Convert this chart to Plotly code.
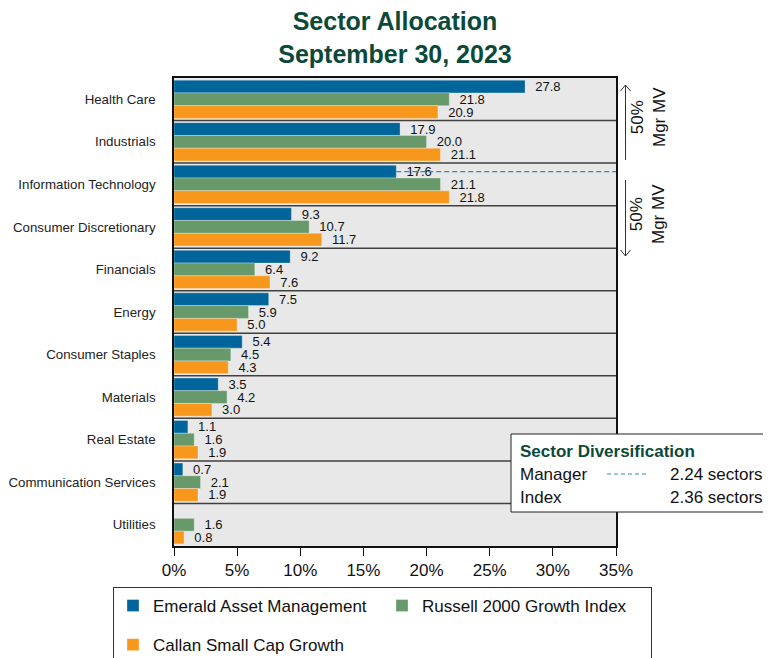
import plotly.graph_objects as go

categories = ["Health Care", "Industrials", "Information Technology", "Consumer Discretionary",
              "Financials", "Energy", "Consumer Staples", "Materials", "Real Estate",
              "Communication Services", "Utilities"]
emerald = [27.8, 17.9, 17.6, 9.3, 9.2, 7.5, 5.4, 3.5, 1.1, 0.7, None]
russell = [21.8, 20.0, 21.1, 10.7, 6.4, 5.9, 4.5, 4.2, 1.6, 2.1, 1.6]
callan = [20.9, 21.1, 21.8, 11.7, 7.6, 5.0, 4.3, 3.0, 1.9, 1.9, 0.8]
series_names = ["Emerald Asset Management", "Russell 2000 Growth Index", "Callan Small Cap Growth"]
colors = ["#00659a", "#67996b", "#f7981d"]
x_ticks = [0, 5, 10, 15, 20, 25, 30, 35]
manager_div = "2.24 sectors"
index_div = "2.36 sectors"
dash_value = emerald[2]

FONT = "Liberation Sans, Arial, sans-serif"
GREEN_T = "#0b4a3a"

OFF = 8  # page body margin
W, H = 771 - OFF, 658 - OFF
# plot area in screen pixels
SL, SR, ST, SB = 174, 616, 78, 546
L, R, T, B = SL - OFF, SR - OFF, ST - OFF, SB - OFF


def px(xs):
    return (xs - OFF - L) / (R - L)


def py(ys):
    return (B - (ys - OFF)) / (B - T)


fig = go.Figure()
for i, (name, vals, col) in enumerate(zip(series_names, [emerald, russell, callan], colors)):
    fig.add_trace(go.Bar(
        y=categories, x=vals, name=name, orientation="h", legendgroup="g%d" % i,
        marker=dict(color=col, line=dict(color="rgba(255,255,255,0.6)", width=0.5)),
        text=[("\u00a0\u00a0%.1f" % v) if v is not None else "" for v in vals],
        textposition="outside", constraintext="none", cliponaxis=False,
        textfont=dict(size=13, color="#111", family=FONT),
    ))

shapes = []
for i in range(len(categories) - 1):
    shapes.append(dict(type="line", xref="paper", x0=0, x1=1, yref="y", y0=i + 0.5, y1=i + 0.5,
                       line=dict(color="#404040", width=1.5)))
shapes.append(dict(type="line", xref="x", x0=dash_value, x1=35, yref="y", y0=1.7, y1=1.7,
                   line=dict(color="#2b8cc8", width=1.2, dash="5px,3px")))
ax = px(625.5)
shapes.append(dict(type="line", xref="paper", yref="paper", x0=ax, x1=ax, y0=py(85), y1=py(160),
                   line=dict(color="#333", width=1)))
shapes.append(dict(type="path", xref="paper", yref="paper",
                   path="M%f,%f L%f,%f L%f,%f" % (px(620.5), py(91), ax, py(85), px(630.5), py(91)),
                   line=dict(color="#333", width=1)))
shapes.append(dict(type="line", xref="paper", yref="paper", x0=ax, x1=ax, y0=py(180), y1=py(256),
                   line=dict(color="#333", width=1)))
shapes.append(dict(type="path", xref="paper", yref="paper",
                   path="M%f,%f L%f,%f L%f,%f" % (px(620.5), py(250), ax, py(256), px(630.5), py(250)),
                   line=dict(color="#333", width=1)))
shapes.append(dict(type="rect", xref="paper", yref="paper", x0=px(511), x1=px(800), y0=py(512), y1=py(434),
                   fillcolor="white", line=dict(color="#222", width=1), layer="above"))
shapes.append(dict(type="line", xref="paper", yref="paper", x0=px(607), x1=px(646), y0=py(474), y1=py(474),
                   line=dict(color="#2b8cc8", width=1.2, dash="4px,3px"), layer="above"))

annotations = [
    dict(xref="paper", yref="paper", x=px(648), y=py(117), text="50%<br>Mgr MV", textangle=-90,
         showarrow=False, font=dict(size=17, color="#111", family=FONT), xanchor="center", yanchor="middle"),
    dict(xref="paper", yref="paper", x=px(648), y=py(214), text="50%<br>Mgr MV", textangle=-90,
         showarrow=False, font=dict(size=17, color="#111", family=FONT), xanchor="center", yanchor="middle"),
    dict(xref="paper", yref="paper", x=px(518), y=py(451), text="<b>Sector Diversification</b>",
         showarrow=False, font=dict(size=17, color=GREEN_T, family=FONT), xanchor="left", yanchor="middle"),
    dict(xref="paper", yref="paper", x=px(518), y=py(474), text="Manager",
         showarrow=False, font=dict(size=17, color="#111", family=FONT), xanchor="left", yanchor="middle"),
    dict(xref="paper", yref="paper", x=px(765), y=py(474), text=manager_div,
         showarrow=False, font=dict(size=17, color="#111", family=FONT), xanchor="right", yanchor="middle"),
    dict(xref="paper", yref="paper", x=px(518), y=py(497), text="Index",
         showarrow=False, font=dict(size=17, color="#111", family=FONT), xanchor="left", yanchor="middle"),
    dict(xref="paper", yref="paper", x=px(765), y=py(497), text=index_div,
         showarrow=False, font=dict(size=17, color="#111", family=FONT), xanchor="right", yanchor="middle"),
]

fig.update_layout(
    width=W, height=H,
    margin=dict(l=L, r=W - R, t=T, b=H - B, autoexpand=False),
    paper_bgcolor="white", plot_bgcolor="#e8e8e8",
    font=dict(family=FONT, color="#111"),
    barmode="group", bargap=0.1, bargroupgap=0,
    title=dict(text="<b>Sector Allocation<br>September 30, 2023</b>", x=0.5, xref="paper",
               xanchor="center", y=1 - 22 / H, yref="container", yanchor="middle",
               font=dict(size=25, color=GREEN_T, family=FONT)),
    xaxis=dict(range=[0, 35], tickvals=x_ticks, ticktext=["%d%%" % v for v in x_ticks],
               showgrid=False, zeroline=False, showline=True, linecolor="#111", linewidth=1.5, mirror=True,
               ticks="outside", ticklen=8, tickcolor="#111", tickfont=dict(size=17, color="#111")),
    yaxis=dict(categoryorder="array", categoryarray=categories, autorange="reversed",
               showgrid=False, zeroline=False, showline=True, linecolor="#111", linewidth=1.5, mirror=True,
               ticks="", ticklabelstandoff=14, tickfont=dict(size=13.3, color="#222")),
    legend=dict(orientation="h", x=px(113), y=py(587), xanchor="left", yanchor="top",
                bordercolor="#333", borderwidth=1, font=dict(size=17, color="#111"),
                traceorder="grouped", tracegroupgap=14, entrywidth=224, bgcolor="white"),
    shapes=shapes, annotations=annotations,
)

fig.write_html("out.html")
